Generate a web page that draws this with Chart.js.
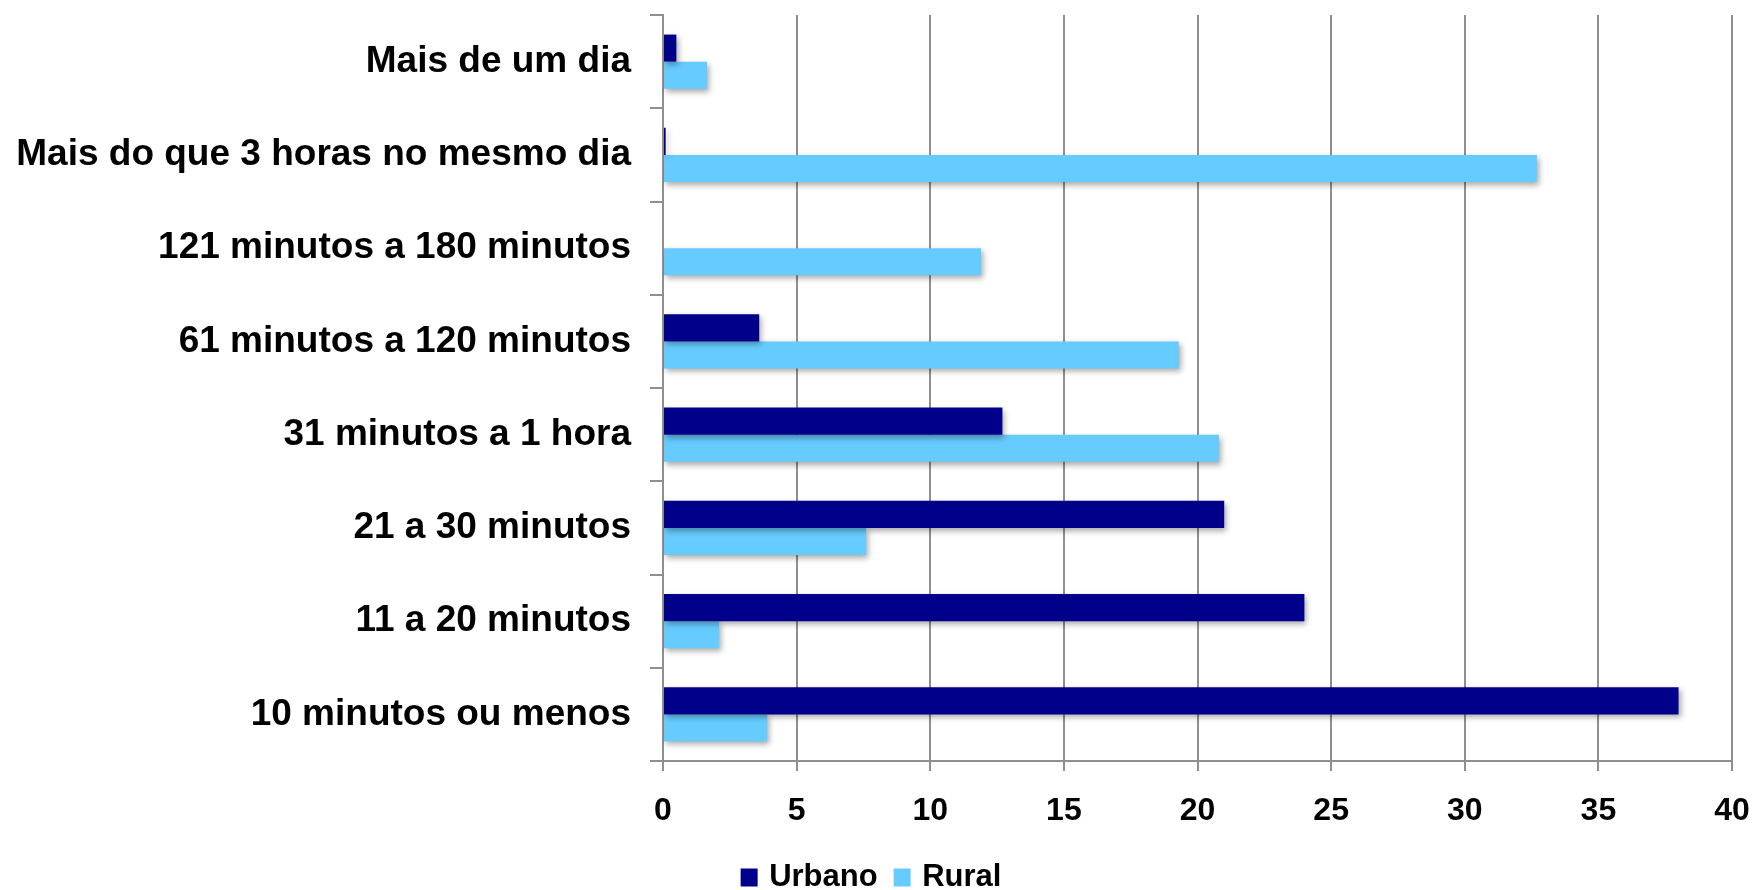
<!DOCTYPE html>
<html>
<head>
<meta charset="utf-8">
<script src="https://cdn.jsdelivr.net/npm/chart.js@4/dist/chart.umd.min.js"></script>
<style>
  html, body { margin: 0; padding: 0; background: #fff; }
  #wrap { width: 1758px; height: 890px; }
</style>
</head>
<body>
<div id="wrap"><canvas id="chart" width="1758" height="890"></canvas></div>
<script>
/* ---- DATA ---- */
const categories = [
    'Mais de um dia',
    'Mais do que 3 horas no mesmo dia',
    '121 minutos a 180 minutos',
    '61 minutos a 120 minutos',
    '31 minutos a 1 hora',
    '21 a 30 minutos',
    '11 a 20 minutos',
    '10 minutos ou menos'
];
const urbanoValues = [0.5, 0.1, 0, 3.6, 12.7, 21.0, 24.0, 38.0];
const ruralValues  = [1.65, 32.7, 11.9, 19.3, 20.8, 7.6, 2.1, 3.9];
const xTicks = [0, 5, 10, 15, 20, 25, 30, 35, 40];

const FONT = "'Liberation Sans', Arial, Helvetica, sans-serif";
const AXIS_GREY = '#8f8f8f';

/* ---- soft drop shadow under the bars ---- */
const barShadow = {
    id: 'barShadow',
    beforeDatasetsDraw(chart) {
        const ctx = chart.ctx;
        ctx.save();
        ctx.shadowColor = 'rgba(0, 0, 0, 0.35)';
        ctx.shadowBlur = 6;
        ctx.shadowOffsetX = 2;
        ctx.shadowOffsetY = 3;
    },
    afterDatasetsDraw(chart) {
        chart.ctx.restore();
    }
};

new Chart(document.getElementById('chart'), {
    type: 'bar',
    data: {
        labels: categories,
        datasets: [
            {
                label: 'Urbano',
                data: urbanoValues,
                backgroundColor: '#00008b',
                categoryPercentage: 0.58,
                barPercentage: 1
            },
            {
                label: 'Rural',
                data: ruralValues,
                backgroundColor: '#66ccff',
                categoryPercentage: 0.58,
                barPercentage: 1
            }
        ]
    },
    options: {
        indexAxis: 'y',
        responsive: false,
        animation: false,
        layout: { padding: { left: 14, right: 26, top: 15, bottom: -13 } },
        plugins: {
            tooltip: { enabled: false },
            legend: {
                position: 'bottom',
                labels: {
                    // small box + thick stroke of the same colour keeps the
                    // swatch ~17px wide while pulling the text closer to it
                    boxWidth: 9,
                    boxHeight: 10,
                    padding: 20,
                    color: '#000',
                    font: { family: FONT, size: 31, weight: 'bold' },
                    generateLabels(chart) {
                        return Chart.defaults.plugins.legend.labels.generateLabels(chart)
                            .map(item => ({ ...item, lineWidth: 8, strokeStyle: item.fillStyle }));
                    }
                }
            }
        },
        scales: {
            x: {
                min: 0,
                max: 40,
                afterBuildTicks(scale) {
                    scale.ticks = xTicks.map(v => ({ value: v }));
                },
                afterFit(scale) {
                    scale.height = 81;
                    scale.paddingLeft = 0;
                    scale.paddingRight = 0;
                },
                grid: { color: AXIS_GREY, lineWidth: 2, tickLength: 10 },
                border: { display: true, color: AXIS_GREY, width: 2 },
                ticks: {
                    color: '#000',
                    padding: 21,
                    font: { family: FONT, size: 32, weight: 'bold' }
                }
            },
            y: {
                afterFit(scale) {
                    scale.width = 649;
                    scale.paddingTop = 0;
                    scale.paddingBottom = 0;
                },
                grid: {
                    drawOnChartArea: false,
                    offset: true,
                    color: AXIS_GREY,
                    lineWidth: 2,
                    tickLength: 13
                },
                border: { display: true, color: AXIS_GREY, width: 2 },
                ticks: {
                    color: '#000',
                    padding: 19,
                    font: { family: FONT, size: 37, weight: 'bold' }
                }
            }
        }
    },
    plugins: [barShadow]
});
</script>
</body>
</html>
